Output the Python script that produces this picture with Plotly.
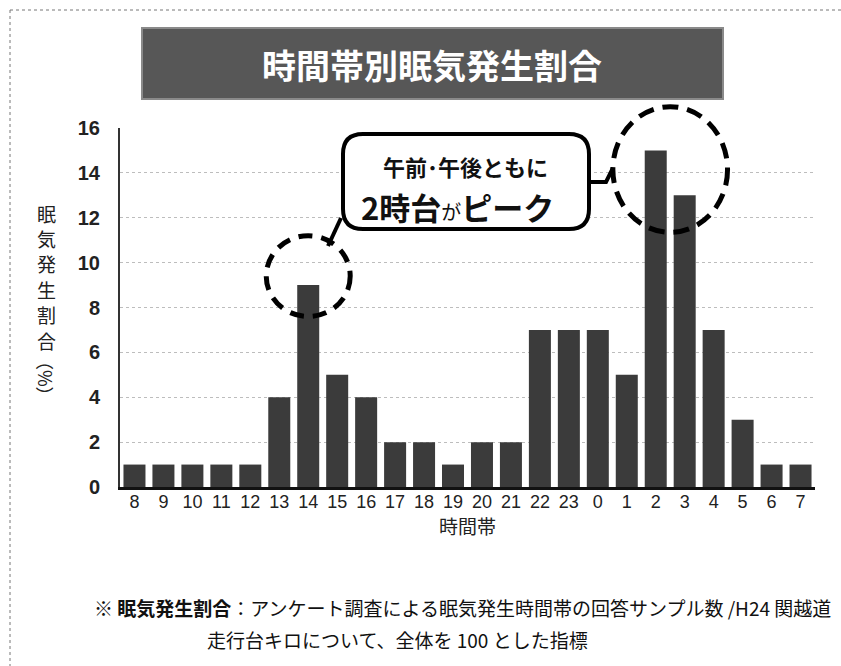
import plotly.graph_objects as go

# hourly drowsiness share (%), starting at 8 o'clock
hours = ["8", "9", "10", "11", "12", "13", "14", "15", "16", "17", "18", "19",
         "20", "21", "22", "23", "0", "1", "2", "3", "4", "5", "6", "7"]
share = [1, 1, 1, 1, 1, 4, 9, 5, 4, 2, 2, 1,
         2, 2, 7, 7, 7, 5, 15, 13, 7, 3, 1, 1]
y_ticks = [0, 2, 4, 6, 8, 10, 12, 14, 16]
Y_MAX = 16

W, H = 841, 666
ML, MR, MT, MB = 120, 26, 128, 179
PW, PH = W - ML - MR, H - MT - MB
JP = "Noto Sans CJK JP"


def px(x):
    return (x - ML) / PW


def py(y):
    return (H - MB - y) / PH


def cat_paper(i):
    # centre of category i in paper units
    return (i + 0.5) / len(hours)


def val_paper(v):
    return v / Y_MAX


def note(x, y, text, size, color="#111", xa="center", ya="middle", **kw):
    return dict(xref="paper", yref="paper", x=x, y=y, text=text, showarrow=False,
                xanchor=xa, yanchor=ya, font=dict(family=JP, size=size, color=color), **kw)


fig = go.Figure(go.Bar(
    x=hours, y=share,
    marker=dict(color="#3b3b3b", line=dict(width=0)),
    width=0.76,
))

shapes = []
annotations = []

# page frame (top and left dotted edges)
shapes.append(dict(type="line", xref="paper", yref="paper",
                   x0=px(10), x1=px(841), y0=py(10), y1=py(10),
                   line=dict(color="#777", width=1, dash="dot")))
shapes.append(dict(type="line", xref="paper", yref="paper",
                   x0=px(10), x1=px(10), y0=py(10), y1=py(666),
                   line=dict(color="#777", width=1, dash="dot")))

# title banner
shapes.append(dict(type="rect", xref="paper", yref="paper",
                   x0=px(142), x1=px(723), y0=py(28), y1=py(99),
                   fillcolor="#575757", line=dict(color="#8a8a8a", width=2), layer="above"))
annotations.append(note(px(432), py(64), "<b>時間帯別眠気発生割合</b>", 34, color="white"))

# dashed rings around the two peaks (paper units so they are not clipped)
i14 = hours.index("14")
i2, i3 = hours.index("2"), hours.index("3")
cw = 1 / len(hours)
shapes.append(dict(type="circle", xref="paper", yref="paper",
                   x0=cat_paper(i14) - 1.45 * cw, x1=cat_paper(i14) + 1.45 * cw,
                   y0=val_paper(share[i14] - 1.4), y1=val_paper(share[i14] + 2.2),
                   line=dict(color="black", width=5, dash="14px,9px"), layer="above"))
cx = (cat_paper(i2) + cat_paper(i3)) / 2
shapes.append(dict(type="circle", xref="paper", yref="paper",
                   x0=cx - 1.98 * cw, x1=cx + 1.98 * cw,
                   y0=val_paper(share[i3] - 1.65), y1=val_paper(share[i2] + 1.95),
                   line=dict(color="black", width=5, dash="16px,9px"), layer="above"))

# callout connectors
shapes.append(dict(type="path", xref="paper", yref="paper",
                   path=f"M {px(341)} {py(218)} L {px(328)} {py(246)}",
                   line=dict(color="black", width=4), layer="above"))
shapes.append(dict(type="path", xref="paper", yref="paper",
                   path=f"M {px(586)} {py(182)} L {px(606)} {py(182)} L {px(613)} {py(168)}",
                   line=dict(color="black", width=4), layer="above"))

# rounded callout box
bx0, bx1, by0, by1, r = 343, 589, 134, 229, 20
path = (f"M {px(bx0 + r)} {py(by0)} L {px(bx1 - r)} {py(by0)} "
        f"Q {px(bx1)} {py(by0)} {px(bx1)} {py(by0 + r)} "
        f"L {px(bx1)} {py(by1 - r)} Q {px(bx1)} {py(by1)} {px(bx1 - r)} {py(by1)} "
        f"L {px(bx0 + r)} {py(by1)} Q {px(bx0)} {py(by1)} {px(bx0)} {py(by1 - r)} "
        f"L {px(bx0)} {py(by0 + r)} Q {px(bx0)} {py(by0)} {px(bx0 + r)} {py(by0)} Z")
shapes.append(dict(type="path", xref="paper", yref="paper", path=path,
                   fillcolor="white", line=dict(color="black", width=4), layer="above"))
annotations.append(note(px(465), py(166), "<b>午前･午後ともに</b>", 22))
annotations.append(note(px(457), py(206),
                        "<b>2時台</b><span style='font-size:20px'>が</span><b>ピーク</b>", 31))

# y-axis title, written vertically one character at a time
for k, ch in enumerate("眠気発生割合"):
    annotations.append(note(px(46), py(213 + 25.4 * k), ch, 19, color="#222"))
annotations.append(note(px(46), py(378), "（%）", 18, color="#222", textangle=90))

# footnote
annotations.append(note(px(92), py(607),
                        "※ <b>眠気発生割合</b>：アンケート調査による眠気発生時間帯の回答サンプル数 /H24 関越道",
                        19, xa="left"))
annotations.append(note(px(205), py(639),
                        "走行台キロについて、全体を 100 とした指標", 19, xa="left"))

fig.update_layout(
    width=W, height=H,
    margin=dict(l=ML, r=MR, t=MT, b=MB),
    paper_bgcolor="white", plot_bgcolor="white",
    showlegend=False,
    shapes=shapes, annotations=annotations,
    bargap=0.24,
    xaxis=dict(
        type="category", categoryorder="array", categoryarray=hours,
        tickfont=dict(family="Liberation Sans", size=18, color="#222"),
        showline=True, linecolor="#111", linewidth=3,
        ticks="", showgrid=False, ticklabelstandoff=-4,
        title=dict(text="時間帯", font=dict(family=JP, size=19, color="#222"), standoff=2),
    ),
    yaxis=dict(
        range=[0, Y_MAX], tickvals=y_ticks,
        tickfont=dict(family="Liberation Sans", size=20, color="#222", weight="bold"),
        showline=True, linecolor="#333", linewidth=2,
        showgrid=True, gridcolor="#bdbdbd", gridwidth=1, griddash="dot",
        zeroline=False, ticks="", ticklabelstandoff=14,
    ),
)

fig.write_html("out.html")
